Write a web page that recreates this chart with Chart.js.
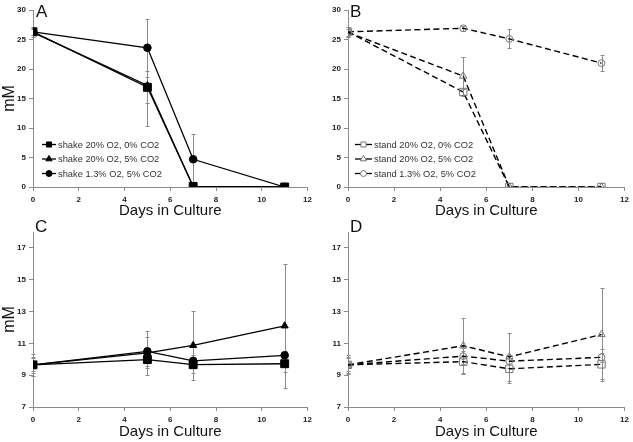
<!DOCTYPE html>
<html>
<head>
<meta charset="utf-8">
<script src="https://cdn.jsdelivr.net/npm/chart.js@4/dist/chart.umd.min.js"></script>
<style>
  body { margin: 0; background: #fff; width: 633px; height: 442px; position: relative; overflow: hidden; }
  .panel { position: absolute; }
</style>
</head>
<body>
<div class="panel" style="left:0;top:0"><canvas id="A" width="316" height="220"></canvas></div>
<div class="panel" style="left:313px;top:0"><canvas id="B" width="320" height="220"></canvas></div>
<div class="panel" style="left:0;top:220px"><canvas id="C" width="316" height="222"></canvas></div>
<div class="panel" style="left:313px;top:220px"><canvas id="D" width="320" height="222"></canvas></div>
<script>
// data
const days = [0, 5, 7, 11];
const xTicks = [0, 2, 4, 6, 8, 10, 12];
const yTicksTop = [0, 5, 10, 15, 20, 25, 30];
const yTicksBottom = [7, 9, 11, 13, 15, 17];
const shakeLabels = ["shake 20% O2, 0% CO2", "shake 20% O2, 5% CO2", "shake 1.3% O2, 5% CO2"];
const standLabels = ["stand 20% O2, 0% CO2", "stand 20% O2, 5% CO2", "stand 1.3% O2, 5% CO2"];

// A - shake
const aSquare = [26.3, 16.9, 0.1, 0];
const aSquareErr = [0.9, 2.7, 0, 0];
const aTriangle = [26.2, 17.2, 0.1, 0];
const aTriangleErr = [0.5, 6.9, 0, 0];
const aCircle = [26.3, 23.6, 4.7, 0];
const aCircleErr = [0.6, 4.9, 4.3, 0];

// B - stand
const bSquare = [26.3, 16.1, 0, 0];
const bSquareErr = [0.8, 0.5, 0, 0];
const bTriangle = [26.2, 18.8, 0, 0];
const bTriangleErr = [0.6, 3.3, 0, 0];
const bCircle = [26.3, 26.9, 25.1, 21.0];
const bCircleErr = [0.9, 0.4, 1.6, 1.3];

// C - shake
const cSquare = [9.65, 9.98, 9.66, 9.72];
const cSquareErr = [0.7, 0.5, 0.5, 0.5];
const cTriangle = [9.65, 10.4, 10.87, 12.1];
const cTriangleErr = [0.5, 1.4, 2.15, 3.9];
const cCircle = [9.65, 10.5, 9.9, 10.25];
const cCircleErr = [0.4, 0.9, 0.4, 0.3];

// D - stand
const dSquare = [9.65, 9.85, 9.4, 9.68];
const dSquareErr = [0.6, 0.7, 0.9, 0.95];
const dTriangle = [9.65, 10.85, 10.15, 11.56];
const dTriangleErr = [0.5, 1.75, 1.5, 2.95];
const dCircle = [9.65, 10.2, 9.88, 10.12];
const dCircleErr = [0.4, 0.5, 0.4, 0.3];

const FONT = "'Liberation Sans', Arial, sans-serif";

const toPoints = vals => vals.map((v, i) => ({ x: days[i], y: v }));

// 에러바
const errorBars = {
  id: "errorBars",
  beforeDatasetsDraw(chart) {
    const { ctx, scales: { x, y } } = chart;
    ctx.save();
    ctx.strokeStyle = "#8c8c8c";
    ctx.lineWidth = 1;
    chart.data.datasets.forEach(ds => {
      (ds.errors || []).forEach((e, i) => {
        if (!e) return;
        const p = ds.data[i];
        const px = Math.round(x.getPixelForValue(p.x)) + 0.5;
        const top = Math.round(y.getPixelForValue(p.y + e)) + 0.5;
        const bot = Math.round(y.getPixelForValue(p.y - e)) + 0.5;
        ctx.beginPath();
        ctx.moveTo(px, top); ctx.lineTo(px, bot);
        ctx.moveTo(px - 2, top); ctx.lineTo(px + 2, top);
        ctx.moveTo(px - 2, bot); ctx.lineTo(px + 2, bot);
        ctx.stroke();
      });
    });
    ctx.restore();
  }
};

function drawMarker(ctx, style, cx, cy, r, fill, stroke) {
  ctx.beginPath();
  if (style === "rect") {
    const s = r * Math.SQRT1_2;
    ctx.rect(cx - s, cy - s, 2 * s, 2 * s);
  } else if (style === "triangle") {
    ctx.moveTo(cx, cy - r);
    ctx.lineTo(cx + r * 0.866, cy + r * 0.5);
    ctx.lineTo(cx - r * 0.866, cy + r * 0.5);
    ctx.closePath();
  } else {
    ctx.arc(cx, cy, r, 0, Math.PI * 2);
  }
  ctx.fillStyle = fill;
  ctx.fill();
  ctx.strokeStyle = stroke;
  ctx.lineWidth = 1;
  ctx.stroke();
}

// 범례 + 패널 글자
const extras = {
  id: "extras",
  afterDraw(chart, args, opts) {
    const ctx = chart.ctx;
    ctx.save();
    ctx.fillStyle = "#111";
    ctx.font = "17px " + FONT;
    ctx.textBaseline = "alphabetic";
    ctx.fillText(opts.letter, opts.letterX, opts.letterY);
    if (opts.legend) {
      const L = opts.legend;
      ctx.font = "9.3px " + FONT;
      ctx.textBaseline = "middle";
      chart.data.datasets.forEach((ds, i) => {
        const y = L.y0 + i * L.dy;
        ctx.strokeStyle = "#000";
        ctx.lineWidth = 1.3;
        ctx.setLineDash([]);
        ctx.beginPath();
        ctx.moveTo(L.x, y); ctx.lineTo(L.x + L.len, y);
        ctx.stroke();
        drawMarker(ctx, ds.pointStyle, L.x + L.len / 2, y, ds.legendR,
          ds.pointBackgroundColor === "#000" ? "#000" : "#fff", ds.pointBorderColor);
        ctx.fillStyle = "#333";
        ctx.fillText(ds.label, L.textX, y + 0.5);
      });
    }
    ctx.restore();
  }
};

function makeDatasets(labels, values, errors, open) {
  const styles = ["rect", "triangle", "circle"];
  const radius = open ? [5.2, 4.2, 3.4] : [5.6, 4.1, 3.8];
  const legendR = [3.6, 3.6, 3.0];
  return labels.map((label, i) => ({
    label,
    data: toPoints(values[i]),
    errors: errors[i],
    borderColor: "#000",
    borderWidth: open ? 1.4 : 1.3,
    borderDash: open ? [6, 3.5] : [],
    pointStyle: styles[i],
    pointRadius: radius[i],
    pointHoverRadius: radius[i],
    legendR: legendR[i],
    pointBackgroundColor: open ? "rgba(255,255,255,0)" : "#000",
    pointBorderColor: open ? "#777" : "#000",
    pointBorderWidth: 1,
    tension: 0,
    fill: false
  }));
}

function makePanel(id, cfg) {
  new Chart(document.getElementById(id), {
    type: "line",
    data: { datasets: cfg.datasets },
    options: {
      responsive: false,
      animation: false,
      layout: { padding: { top: cfg.padTop, right: cfg.padRight, left: 0, bottom: 0 } },
      plugins: {
        legend: { display: false },
        tooltip: { enabled: false },
        extras: cfg.extras
      },
      scales: {
        x: {
          type: "linear",
          min: 0, max: 12,
          afterBuildTicks: s => { s.ticks = xTicks.map(v => ({ value: v })); },
          afterFit: s => { s.height = cfg.xHeight; },
          border: { color: "#8c8c8c", width: 1 },
          grid: { drawOnChartArea: false, color: "#8c8c8c", tickLength: 4 },
          ticks: { font: { family: FONT, size: 8, weight: "bold" }, color: "#222", padding: 4, maxRotation: 0 },
          title: { display: true, text: "Days in Culture", font: { family: FONT, size: 15 }, color: "#111",
                   padding: { top: 0, bottom: cfg.titlePadBottom } }
        },
        y: {
          min: cfg.yMin, max: cfg.yMax,
          afterBuildTicks: s => { s.ticks = cfg.yTicks.map(v => ({ value: v })); },
          afterFit: s => { s.width = cfg.yWidth; },
          border: { color: "#8c8c8c", width: 1 },
          grid: { drawOnChartArea: false, color: "#8c8c8c", tickLength: 4 },
          ticks: { font: { family: FONT, size: 8, weight: "bold" }, color: "#222", padding: 3 },
          title: { display: cfg.yTitle, text: "mM", font: { family: FONT, size: 16 }, color: "#111", padding: 0 }
        }
      }
    },
    plugins: [errorBars, extras]
  });
}

makePanel("A", {
  datasets: makeDatasets(shakeLabels, [aSquare, aTriangle, aCircle], [aSquareErr, aTriangleErr, aCircleErr], false),
  padTop: 10, padRight: 5, xHeight: 33, yWidth: 33, titlePadBottom: 0,
  yMin: 0, yMax: 30, yTicks: yTicksTop, yTitle: true,
  extras: { letter: "A", letterX: 36, letterY: 17, legend: { x: 42, len: 14, textX: 58, y0: 144.5, dy: 14.5 } }
});

makePanel("B", {
  datasets: makeDatasets(standLabels, [bSquare, bTriangle, bCircle], [bSquareErr, bTriangleErr, bCircleErr], true),
  padTop: 10, padRight: 8, xHeight: 33, yWidth: 35, titlePadBottom: 0,
  yMin: 0, yMax: 30, yTicks: yTicksTop, yTitle: false,
  extras: { letter: "B", letterX: 37, letterY: 17, legend: { x: 42, len: 17, textX: 61, y0: 144.5, dy: 14.5 } }
});

makePanel("C", {
  datasets: makeDatasets(shakeLabels, [cSquare, cTriangle, cCircle], [cSquareErr, cTriangleErr, cCircleErr], false),
  padTop: 12, padRight: 5, xHeight: 35, yWidth: 33, titlePadBottom: 1,
  yMin: 7, yMax: 18, yTicks: yTicksBottom, yTitle: true,
  extras: { letter: "C", letterX: 35, letterY: 12 }
});

makePanel("D", {
  datasets: makeDatasets(standLabels, [dSquare, dTriangle, dCircle], [dSquareErr, dTriangleErr, dCircleErr], true),
  padTop: 12, padRight: 8, xHeight: 35, yWidth: 35, titlePadBottom: 1,
  yMin: 7, yMax: 18, yTicks: yTicksBottom, yTitle: false,
  extras: { letter: "D", letterX: 37, letterY: 12 }
});
</script>
</body>
</html>
